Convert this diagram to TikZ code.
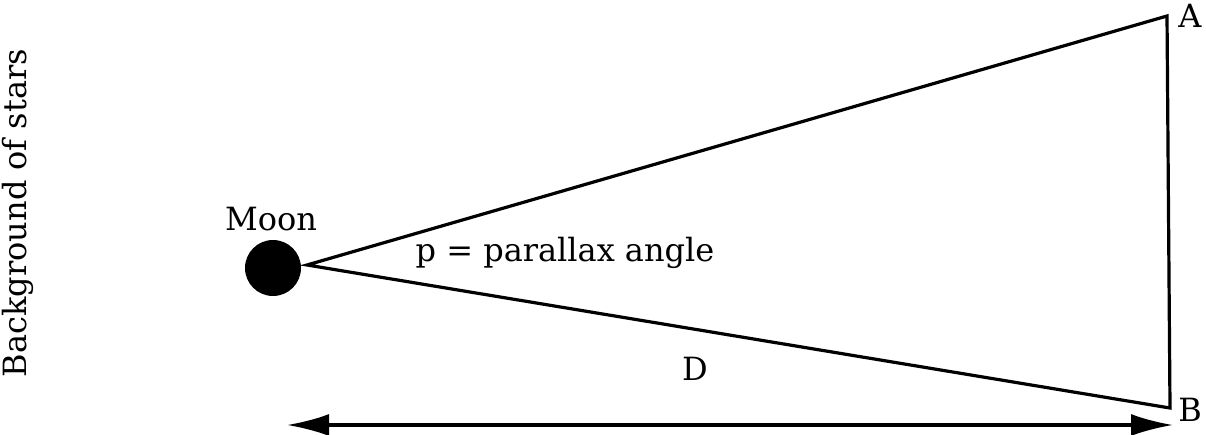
\documentclass[tikz,border=0pt]{standalone}
\usepackage{fontspec}
\setmainfont{DejaVu Serif}
\usetikzlibrary{arrows.meta}
\begin{document}
\begin{tikzpicture}[x=1pt,y=-1pt,
  line/.style={line width=3.2pt,line join=miter},
  lbl/.style={inner sep=0pt,font=\fontsize{32}{36}\selectfont}]
\useasboundingbox (0,0) rectangle (1206,435);
\fill (273,268) circle (28);
\coordinate (M) at (307,265);
\coordinate (A) at (1167,16);
\coordinate (B) at (1170,408);
\draw[line] (M) -- (A) -- (B) -- cycle;
\coordinate (L) at (287,425);
\coordinate (R) at (1173,425);
\draw[line width=3.2pt,{Latex[length=42pt,width=22pt]}-{Latex[length=42pt,width=22pt]}] (L) -- (R);
\node[lbl] (moon) at (271,219) {Moon};
\node[lbl] (p) at (565,253) {p = parallax angle};
\node[lbl] (D) at (695,369) {D};
\node[lbl] (Alab) at (1190,16) {A};
\node[lbl] (Blab) at (1190,410) {B};
\node[lbl,rotate=90] (bg) at (18,213) {Background of stars};
\end{tikzpicture}
\end{document}
